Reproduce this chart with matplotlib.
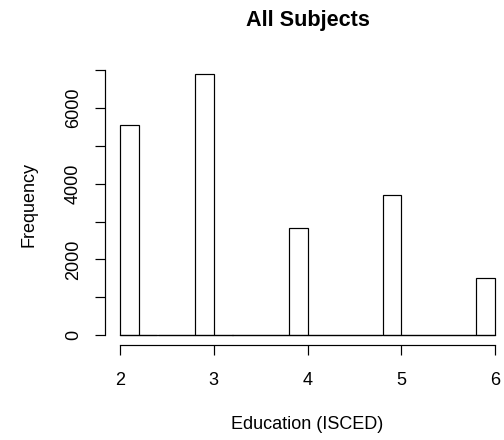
import matplotlib
matplotlib.use('Agg')
import matplotlib.pyplot as plt
import numpy as np

plt.rcParams['font.family'] = ['Liberation Sans', 'DejaVu Sans']

# Data (R-style histogram, bin width 0.2)
education = [2, 3, 4, 5, 6]
frequency = [5560, 6890, 2820, 3690, 1515]
breaks = np.arange(10, 31) / 5.0          # 2.0, 2.2, ..., 6.0
x_ticks = [2, 3, 4, 5, 6]
y_ticks = [0, 1000, 2000, 3000, 4000, 5000, 6000, 7000]
y_labels = ['0', '', '2000', '', '4000', '', '6000', '']

title = 'All Subjects'
xlabel = 'Education (ISCED)'
ylabel = 'Frequency'

# R hist: right-closed bins, lowest included
bin_counts = np.zeros(len(breaks) - 1)
for v, c in zip(education, frequency):
    idx = max(int(np.searchsorted(breaks, v, side='left')) - 1, 0)
    bin_counts[idx] += c

W, H = 504, 440
fig = plt.figure(figsize=(W / 72, H / 72), dpi=72)
fig.patch.set_facecolor('white')

left_px, right_px, top_px, bottom_px = 105, 510, 64, 345.4
ax = fig.add_axes([left_px / W, (H - bottom_px) / H,
                   (right_px - left_px) / W, (bottom_px - top_px) / H])

# baseline of the empty bins (R draws zero-height rectangles)
ax.plot([breaks[0], breaks[-1]], [0, 0], color='black', linewidth=1.2,
        solid_capstyle='projecting')
ax.bar(breaks[:-1], bin_counts, width=np.diff(breaks), align='edge',
       facecolor='white', edgecolor='black', linewidth=1.2)

xr = breaks[-1] - breaks[0]
ax.set_xlim(breaks[0] - 0.04 * xr, breaks[-1] + 0.04 * xr)
ymax = bin_counts.max()
ax.set_ylim(-0.04 * ymax, ymax * 1.04)

for s in ['top', 'right']:
    ax.spines[s].set_visible(False)
ax.spines['left'].set_bounds(y_ticks[0], y_ticks[-1])
ax.spines['bottom'].set_bounds(x_ticks[0], x_ticks[-1])
for s in ['left', 'bottom']:
    ax.spines[s].set_linewidth(1.2)

ax.set_xticks(x_ticks)
ax.set_xticklabels([str(t) for t in x_ticks])
ax.set_yticks(y_ticks)
ax.set_yticklabels(y_labels, rotation=90, va='center')
ax.tick_params(axis='both', direction='out', length=10, width=1.2,
               labelsize=18, colors='black')
ax.tick_params(axis='x', pad=17)
ax.tick_params(axis='y', pad=13)

fig.text((left_px + right_px) / 2 / W, (H - 26) / H, title,
         ha='center', va='baseline', fontsize=21.6, fontweight='bold')
fig.text((left_px + right_px) / 2 / W, (H - 429) / H, xlabel,
         ha='center', va='baseline', fontsize=18)
fig.text(29 / W, (H - (top_px + bottom_px) / 2) / H, ylabel,
         ha='center', va='center', rotation=90, fontsize=18)

fig.savefig('out.png', dpi=72, facecolor='white')
